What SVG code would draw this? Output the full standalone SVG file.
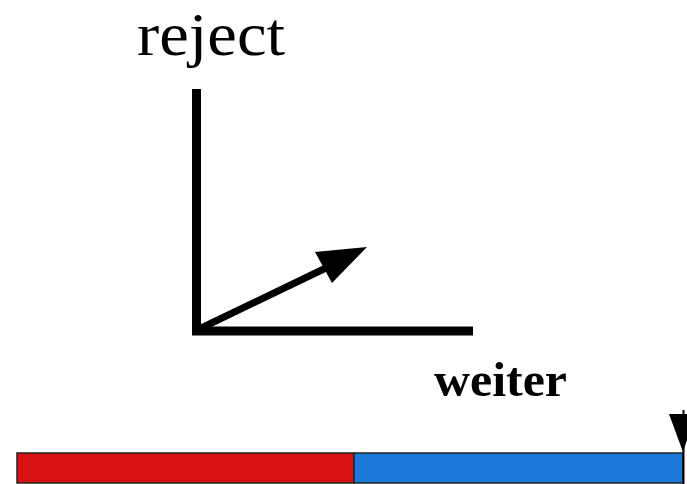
<svg xmlns="http://www.w3.org/2000/svg" width="687" height="484" viewBox="0 0 687 484">
<style>
.lbl{font-family:"Liberation Serif",serif;fill:#000}
.axis{stroke:#000;stroke-width:9;fill:none}
.bar{stroke:#222;stroke-width:1.5}
</style>
<rect width="687" height="484" fill="#fff"/>
<g id="label-reject"><text class="lbl" x="137" y="55" font-size="61" textLength="148" lengthAdjust="spacingAndGlyphs">reject</text></g>
<g id="label-weiter"><text class="lbl" x="434" y="396" font-size="49" font-weight="bold" textLength="133" lengthAdjust="spacingAndGlyphs">weiter</text></g>
<g id="connectors">
<path class="axis" d="M196.5 89 V331 H473"/>
<line x1="197" y1="330" x2="330" y2="266" stroke="#000" stroke-width="7"/>
<polygon points="367,247 315,252 332,283" fill="#000"/>
</g>
<g id="bar">
<rect class="bar" x="17" y="453" width="337" height="30" fill="#d81212"/>
<rect class="bar" x="354" y="453" width="329" height="30" fill="#1a78d8"/>
</g>
<g id="marker">
<line x1="683.5" y1="410" x2="683.5" y2="484" stroke="#000" stroke-width="2"/>
<polygon points="669,414 687,414 687,440 683,452" fill="#000"/>
</g>
</svg>
